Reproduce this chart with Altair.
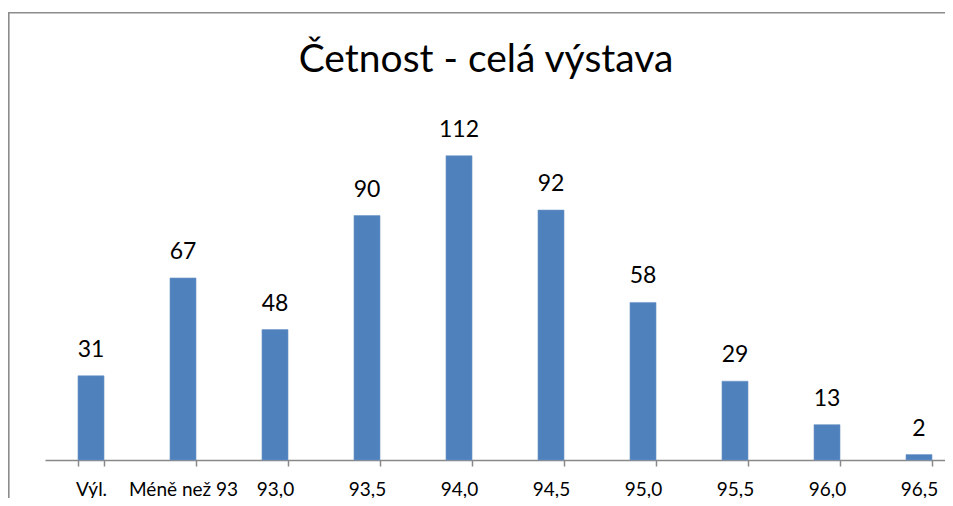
import altair as alt
import pandas as pd

categories = ["Výl.", "Méně než 93", "93,0", "93,5", "94,0", "94,5", "95,0", "95,5", "96,0", "96,5"]
counts = [31, 67, 48, 90, 112, 92, 58, 29, 13, 2]
title_text = "Četnost - celá výstava"

FONT = "Lato"
GRAY = "#898989"

df = pd.DataFrame({"cat": categories, "count": counts})

x_scale = alt.Scale(domain=categories, range=[0, 920], paddingInner=0.717, paddingOuter=0.3585)
y_scale = alt.Scale(domain=[0, 120])

base = alt.Chart(df)

bars = base.mark_bar(color="#4F81BD", stroke="#6E97C8", strokeWidth=0.6).encode(
    x=alt.X("cat:N", sort=categories, scale=x_scale, title=None,
            axis=alt.Axis(labelAngle=0, tickBand="extent", tickSize=6, tickColor=GRAY,
                          tickWidth=1.5, domainColor=GRAY, domainWidth=1.5,
                          labelFont=FONT, labelFontSize=19, labelColor="black",
                          labelBaseline="alphabetic", labelPadding=29, grid=False)),
    y=alt.Y("count:Q", scale=y_scale, axis=None),
)

labels = base.mark_text(font=FONT, fontSize=23, color="black", baseline="alphabetic", dy=-19).encode(
    x=alt.X("cat:N", sort=categories, scale=x_scale),
    y=alt.Y("count:Q", scale=y_scale),
    text=alt.Text("count:Q"),
)

title_df = pd.DataFrame({"t": [title_text]})
title = alt.Chart(title_df).mark_text(font=FONT, fontSize=39, color="black",
                                      baseline="alphabetic", align="center").encode(
    x=alt.value(441), y=alt.value(-62), text="t:N"
)

frame_df = pd.DataFrame({"k": [0]})
left_border = alt.Chart(frame_df).mark_rule(color="#8C8C8C", strokeWidth=1.6).encode(
    x=alt.value(-36.2), y=alt.value(-121.5), y2=alt.value(400)
)
top_border = alt.Chart(frame_df).mark_rule(color="#8C8C8C", strokeWidth=1.6).encode(
    x=alt.value(-37), x2=alt.value(900), y=alt.value(-121.2)
)

chart = alt.layer(left_border, top_border, bars, labels, title).properties(
    width=900, height=326,
    background="white",
    autosize=alt.AutoSizeParams(type="none"),
    padding={"left": 37, "top": 126, "right": 0, "bottom": 38},
).configure_view(stroke="transparent", strokeWidth=0)

chart.save("out.html", embed_options={"renderer": "svg", "actions": False})
